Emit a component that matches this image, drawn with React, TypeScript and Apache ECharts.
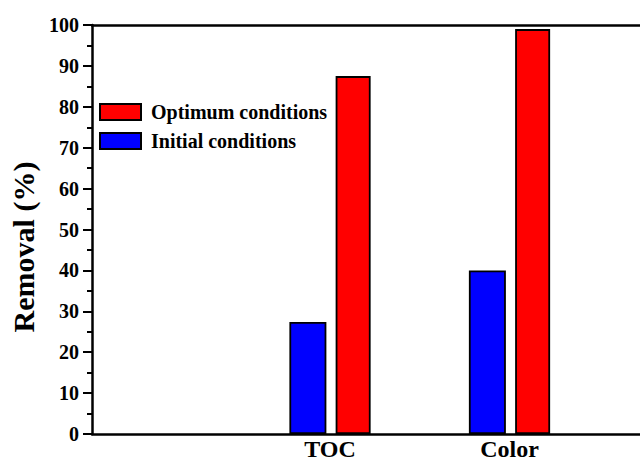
import React, { useEffect, useRef } from "react";
import * as echarts from "echarts";

// Removal efficiency (%) for each measured parameter
const categories = ["TOC", "Color"];
const initialConditions = [27.4, 40.0];
const optimumConditions = [87.5, 99.0];
const yTicks = { min: 0, max: 100, interval: 10 };

const FONT = "Liberation Serif";

export default function App() {
  const ref = useRef<HTMLDivElement>(null);

  useEffect(() => {
    if (!ref.current) return;
    const chart = echarts.init(ref.current, undefined, { renderer: "svg" });

    // categories sit at positions 1, 2 ... on a numeric axis
    const positions = categories.map((_, i) => i + 1);
    const toPairs = (vals: number[]) => vals.map((v, i) => [positions[i], v]);
    const xRange = { min: -0.326, max: 2.727 };

    chart.setOption({
      animation: false,
      backgroundColor: "#fff",
      grid: {
        left: 92,
        right: 0,
        top: 25,
        bottom: 27,
        containLabel: false,
        outerBoundsMode: "none",
      },
      legend: {
        orient: "vertical",
        left: 99,
        top: 102,
        padding: 0,
        icon: "rect",
        itemWidth: 41,
        itemHeight: 16,
        itemGap: 9,
        data: ["Optimum conditions", "Initial conditions"],
        textStyle: {
          fontFamily: FONT,
          fontWeight: "bold",
          fontSize: 20,
          color: "#000",
          padding: [0, 0, 0, 5],
        },
        selectedMode: false,
      },
      graphic: [
        {
          type: "text",
          x: 23,
          y: 247,
          rotation: Math.PI / 2,
          style: {
            text: "Removal (%)",
            fontFamily: FONT,
            fontWeight: "bold",
            fontSize: 30,
            fill: "#000",
            textAlign: "center",
            textVerticalAlign: "middle",
          },
        },
      ],
      xAxis: [
        {
          type: "value",
          ...xRange,
          splitLine: { show: false },
          axisLine: { show: true, onZero: false, lineStyle: { color: "#000", width: 2.5 } },
          axisTick: { show: false },
          axisLabel: {
            customValues: positions,
            formatter: (v: number) => categories[Math.round(v) - 1] ?? "",
            fontFamily: FONT,
            fontWeight: "bold",
            fontSize: 24,
            lineHeight: 24,
            color: "#000",
            margin: 3,
          },
        },
        {
          type: "value",
          position: "top",
          ...xRange,
          splitLine: { show: false },
          axisLine: { show: true, onZero: false, lineStyle: { color: "#000", width: 2.5 } },
          axisTick: { show: false },
          axisLabel: { show: false },
        },
      ],
      yAxis: {
        type: "value",
        min: yTicks.min,
        max: yTicks.max,
        interval: yTicks.interval,
        splitLine: { show: false },
        axisLine: { show: true, onZero: false, lineStyle: { color: "#000", width: 2.5 } },
        axisTick: { show: true, inside: false, length: 9, lineStyle: { color: "#000", width: 2 } },
        minorTick: { show: true, splitNumber: 2, length: 5, lineStyle: { color: "#000", width: 2 } },
        axisLabel: {
          fontFamily: FONT,
          fontWeight: "bold",
          fontSize: 20,
          color: "#000",
          margin: 13,
        },
      },
      series: [
        {
          name: "Initial conditions",
          type: "bar",
          xAxisIndex: 0,
          data: toPairs(initialConditions),
          barWidth: 37,
          barGap: "25%",
          itemStyle: { color: "#0000ff", borderColor: "#000", borderWidth: 1.8 },
        },
        {
          name: "Optimum conditions",
          type: "bar",
          xAxisIndex: 0,
          data: toPairs(optimumConditions),
          barWidth: 35,
          barGap: "25%",
          itemStyle: { color: "#ff0000", borderColor: "#000", borderWidth: 1.8 },
        },
      ],
    });

    return () => chart.dispose();
  }, []);

  return <div ref={ref} style={{ width: 640, height: 461, position: "absolute", left: 0, top: 0 }} />;
}
